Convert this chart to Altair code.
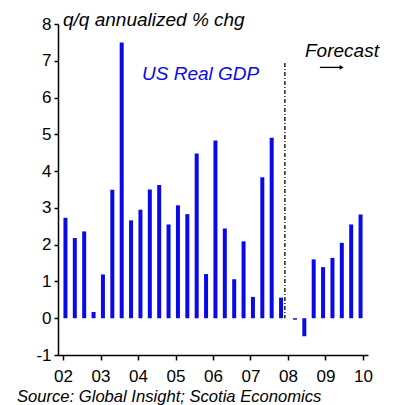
import altair as alt
import pandas as pd

# ---- data ----
quarters = ["2002Q1", "2002Q2", "2002Q3", "2002Q4",
            "2003Q1", "2003Q2", "2003Q3", "2003Q4",
            "2004Q1", "2004Q2", "2004Q3", "2004Q4",
            "2005Q1", "2005Q2", "2005Q3", "2005Q4",
            "2006Q1", "2006Q2", "2006Q3", "2006Q4",
            "2007Q1", "2007Q2", "2007Q3", "2007Q4",
            "2008Q1", "2008Q2", "2008Q3", "2008Q4",
            "2009Q1", "2009Q2", "2009Q3", "2009Q4"]
gdp = [2.73, 2.18, 2.36, 0.17,
       1.19, 3.49, 7.50, 2.66,
       2.95, 3.50, 3.62, 2.55,
       3.07, 2.83, 4.48, 1.20,
       4.83, 2.44, 1.06, 2.09,
       0.58, 3.83, 4.91, 0.56,
       -0.04, -0.49, 1.60, 1.39,
       1.64, 2.05, 2.55, 2.82]
series = ["Actual"] * 24 + ["Forecast"] * 8

year_ticks = [2002, 2003, 2004, 2005, 2006, 2007, 2008, 2009, 2010]
year_labels = ["02", "03", "04", "05", "06", "07", "08", "09", "10"]
y_ticks = [-1, 0, 1, 2, 3, 4, 5, 6, 7, 8]
y_labels = ["-1", "0", "1", "2", "3", "4", "5", "6", "7", "8"]

forecast_line_x = [2007.917]
forecast_line_top = [6.94]
forecast_line_bottom = [0.0]

FONT = "Liberation Sans"
BLUE = "#0a0ae6"

df = pd.DataFrame({"quarter": quarters, "gdp": gdp, "series": series})
df["year"] = df["quarter"].str[:4].astype(int)
df["q"] = df["quarter"].str[-1].astype(int)
# clustered-bar offset: actual series left of slot centre, forecast right
df["offset"] = df["series"].map({"Actual": -0.06, "Forecast": 0.06})
df["xpos"] = df["year"] + (df["q"] - 1) / 4 + 0.125 + df["offset"]
df["base"] = 0.0

def arr_expr(labels, first):
    return "[" + ",".join("'%s'" % s for s in labels) + "][datum.value - (%d)]" % first

xscale = alt.Scale(domain=[year_ticks[0], year_ticks[-1]], nice=False, zero=False)
yscale = alt.Scale(domain=[y_ticks[0], y_ticks[-1]], nice=False, zero=False)

ax_x = alt.Axis(values=year_ticks, labelExpr=arr_expr(year_labels, year_ticks[0]),
                title=None, grid=False, tickSize=5, labelPadding=8,
                labelOverlap=False, labelFlush=False,
                labelFontSize=17, labelFont=FONT, labelColor="black",
                domainColor="black", tickColor="black",
                domainWidth=1.5, tickWidth=1.5)
ax_y = alt.Axis(values=y_ticks, labelExpr=arr_expr(y_labels, y_ticks[0]),
                title=None, grid=False, tickSize=4, labelPadding=3,
                labelOverlap=False, labelFlush=False,
                labelFontSize=17, labelFont=FONT, labelColor="black",
                domainColor="black", tickColor="black",
                domainWidth=1.5, tickWidth=1.5)

bars = alt.Chart(df).mark_bar(size=4, color=BLUE).encode(
    x=alt.X("xpos:Q", scale=xscale, axis=ax_x),
    y=alt.Y("gdp:Q", scale=yscale, axis=ax_y),
    y2="base:Q",
)

vline = alt.Chart(pd.DataFrame({"x": forecast_line_x, "top": forecast_line_top,
                                "bottom": forecast_line_bottom})).mark_rule(
    color="black", strokeWidth=1.3, strokeDash=[4, 2, 1, 2]
).encode(x=alt.X("x:Q", scale=xscale, axis=ax_x),
         y=alt.Y("top:Q", scale=yscale, axis=ax_y), y2="bottom:Q")

arrow_df = pd.DataFrame({"x1": [2008.85], "x2": [2009.42], "y": [6.82]})
arrow_line = alt.Chart(arrow_df).mark_rule(color="black", strokeWidth=1.3).encode(
    x=alt.X("x1:Q", scale=xscale, axis=ax_x), x2="x2:Q",
    y=alt.Y("y:Q", scale=yscale, axis=ax_y))
arrow_head = alt.Chart(pd.DataFrame({"x": [2009.43], "y": [6.82]})).mark_point(
    shape="triangle-right", filled=True, color="black", size=22, opacity=1
).encode(x=alt.X("x:Q", scale=xscale, axis=ax_x),
         y=alt.Y("y:Q", scale=yscale, axis=ax_y))

def label(text, x, y, size, color="black"):
    return alt.Chart(pd.DataFrame({"t": [text]})).mark_text(
        font=FONT, fontSize=size, fontStyle="italic", color=color,
        align="left", baseline="alphabetic"
    ).encode(x=alt.value(x), y=alt.value(y), text="t:N")

title_t = label("q/q annualized % chg", 5, 1.5, 19)
gdp_t = label("US Real GDP", 84, 56, 19, BLUE)
fc_t = label("Forecast", 247, 33, 19)
src_t = label("Source: Global Insight; Scotia Economics", -41, 378, 16.6)

chart = alt.layer(bars, vline, arrow_line, arrow_head, title_t, gdp_t, fc_t, src_t).properties(
    width=310, height=331,
    autosize=alt.AutoSizeParams(type="none"),
    padding={"left": 58, "top": 24, "right": 26, "bottom": 50},
    background="white",
).configure_view(strokeWidth=0)

chart.save("out.html", embed_options={"renderer": "svg", "actions": False})
